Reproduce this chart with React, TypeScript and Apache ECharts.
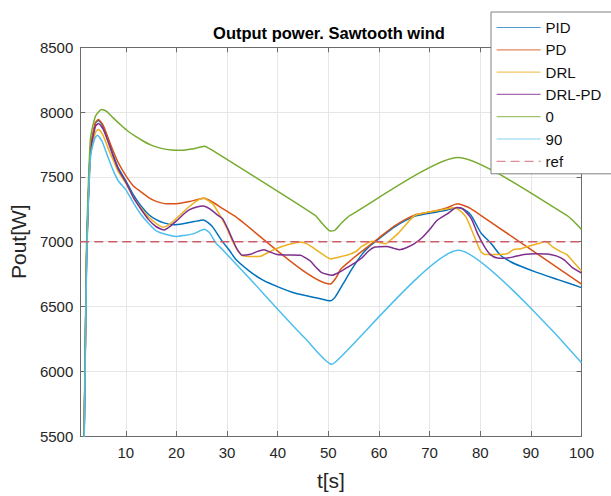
import React, { useEffect, useRef } from "react";
import * as echarts from "echarts";

const FONT = "'Liberation Sans', Arial, Helvetica, sans-serif";

const xTicks = [10, 20, 30, 40, 50, 60, 70, 80, 90, 100];
const seriesNames = ["PID", "PD", "DRL", "DRL-PD", "0", "90", "ref"];
const seriesColors = ["#0072BD", "#D95319", "#EDB120", "#7E2F8E", "#77AC30", "#4DBEEE", "#CD5C6A"];

const pidData = [
  [1, 3000], [2.2, 6800], [3, 7710], [4, 7915], [4.6, 7935], [5.5, 7890], [6.5, 7790], [7.5, 7670],
  [8.5, 7570], [10, 7470], [11.5, 7360], [13, 7275], [14.5, 7210], [16, 7170], [17.5, 7145],
  [19.5, 7130], [21.3, 7138], [23.5, 7155], [25.3, 7168], [26.3, 7145], [27.2, 7110], [29.1, 7000],
  [30.5, 6930], [31.8, 6860], [34.4, 6773], [37, 6705], [40.3, 6647], [43, 6608], [45.5, 6584],
  [48, 6563], [50.4, 6543], [51.3, 6570], [53, 6680], [54.6, 6786], [56.6, 6900], [58, 6960],
  [59.9, 7020], [63.1, 7115], [67, 7195], [70, 7220], [73, 7240], [75.5, 7262], [76.7, 7250],
  [78.2, 7203], [80.1, 7070], [82.1, 6988], [84, 6895], [86, 6845], [88, 6810], [91, 6765],
  [95.5, 6705], [100, 6645],
];

const pdData = [
  [1, 3000], [2.2, 6800], [3, 7720], [4, 7920], [4.6, 7942], [5.5, 7900], [6.5, 7800], [7.5, 7700],
  [8.5, 7610], [10, 7510], [11.5, 7430], [12.8, 7390], [14.5, 7340], [16, 7311], [18, 7293],
  [20, 7293], [22.6, 7310], [25.5, 7335], [27.2, 7304], [29.2, 7253], [31.4, 7200], [50.4, 6673],
  [51.5, 6720], [52.5, 6790], [54.6, 6862], [56.6, 6925], [59.9, 7026], [63, 7120], [67, 7205],
  [71, 7236], [73.5, 7262], [75.5, 7292], [77, 7275], [78.2, 7253], [80.1, 7203], [100, 6673],
];

const drlData = [
  [1, 3000], [2.2, 6750], [3, 7660], [4, 7845], [4.6, 7866], [5.5, 7820], [6.5, 7720], [7.5, 7630],
  [8.5, 7540], [10, 7450], [11.5, 7340], [13, 7260], [14.5, 7190], [16, 7140], [17.3, 7112],
  [18.5, 7130], [20, 7180], [21.5, 7235], [22.6, 7273], [24, 7315], [25.3, 7337], [26.5, 7310],
  [27.2, 7291], [28.8, 7190], [30, 7100], [31.1, 7001], [32.2, 6925], [33.1, 6890], [35, 6885],
  [36.6, 6887], [38.5, 6925], [40.3, 6955], [42.3, 6980], [44.2, 6996], [45.7, 6985], [47.1, 6950],
  [48.8, 6905], [50.5, 6867], [52, 6880], [54, 6900], [55.5, 6925], [56.6, 6963], [58.7, 7004],
  [60, 6995], [61.3, 6983], [62.5, 7020], [63.8, 7064], [65.5, 7140], [67, 7200], [69, 7222],
  [71, 7236], [73, 7250], [74.9, 7261], [76, 7240], [77.2, 7190], [78.2, 7100], [79.1, 7014],
  [80.1, 6925], [81, 6900], [83.4, 6900], [85.4, 6908], [86.6, 6940], [88, 6945], [89.9, 6968],
  [91.5, 6985], [92.9, 7001], [94.3, 6960], [95.8, 6925], [97.1, 6900], [98.5, 6840], [100, 6773],
];

const drlPdData = [
  [1, 3000], [2.2, 6780], [3, 7690], [4, 7890], [4.6, 7912], [5.5, 7870], [6.5, 7770], [7.5, 7660],
  [8.5, 7560], [10, 7460], [11.5, 7340], [13, 7250], [14.5, 7170], [16, 7115], [17.6, 7090],
  [18.8, 7120], [20, 7160], [21.5, 7215], [22.6, 7247], [24, 7268], [25.3, 7276], [26.5, 7255],
  [28.2, 7203], [29.1, 7178], [30, 7110], [31.1, 7014], [32, 6940], [33, 6895], [34.6, 6902],
  [36, 6925], [37.3, 6938], [38.5, 6920], [39.9, 6900], [42, 6897], [44.5, 6895], [45.5, 6875],
  [46.5, 6849], [47.6, 6800], [48.7, 6761], [50.7, 6741], [52, 6760], [53.3, 6790], [55, 6830],
  [56.6, 6874], [58, 6930], [59.2, 6958], [61.5, 6963], [63, 6948], [64.1, 6938], [65.5, 6955],
  [67, 6985], [68.5, 7030], [70, 7094], [71.5, 7165], [73.5, 7215], [75.4, 7263], [76.5, 7255],
  [78.2, 7180], [79.5, 7060], [80.8, 6963], [82, 6900], [83.4, 6874], [85, 6872], [86.5, 6882],
  [88.6, 6900], [91, 6907], [93.2, 6905], [95, 6890], [96.5, 6862], [98.2, 6800], [100, 6758],
];

const zeroData = [
  [1, 3000], [2.2, 6900], [3, 7790], [4, 7967], [5.2, 8020], [6.2, 8005], [7.5, 7955], [9, 7900],
  [10.5, 7850], [12, 7810], [13.5, 7775], [15, 7745], [17, 7720], [19, 7707], [21, 7705],
  [23, 7715], [24.5, 7728], [25.5, 7737], [26.8, 7712], [47.4, 7203], [48.8, 7140], [50.4, 7082],
  [51.3, 7088], [52.5, 7140], [54.3, 7203], [75.6, 7650], [97.1, 7203], [100, 7094],
];

const ninetyData = [
  [1, 3000], [2.2, 6700], [3, 7640], [3.8, 7790], [4.4, 7821], [5.3, 7775], [6.3, 7670],
  [7.5, 7550], [8.5, 7470], [10, 7400], [11.5, 7300], [13, 7210], [14.5, 7140], [16, 7083],
  [18, 7055], [20, 7040], [21.5, 7048], [23.3, 7060], [25.5, 7095], [26.5, 7070], [27.8, 6990],
  [29.1, 6938], [34.4, 6718], [40.9, 6440], [45.5, 6250], [50.7, 6053], [51.5, 6075],
  [75.7, 6933], [100, 6066],
];

const refData = [[1, 7000], [100, 7000]];

const allData = [pidData, pdData, drlData, drlPdData, zeroData, ninetyData, refData];

const AXIS = "#6b6b6b";
const GRID = "#e6e6e6";
const TXT = "#262626";

export default function App() {
  const ref = useRef<HTMLDivElement>(null);
  useEffect(() => {
    const chart = echarts.init(ref.current!, null, { renderer: "svg" });
    const series = seriesNames.map((name, i) => ({
      name,
      type: "line",
      data: allData[i],
      symbol: "none",
      smooth: name === "ref" ? false : 0.2,
      clip: true,
      xAxisIndex: 0,
      yAxisIndex: 0,
      lineStyle: {
        color: seriesColors[i],
        width: 1.5,
        type: name === "ref" ? [9, 5] : "solid",
      },
      itemStyle: { color: seriesColors[i] },
      z: 3,
    }));
    const mirrorX = {
      type: "value",
      min: 1,
      max: 100,
      position: "top",
      axisLine: { show: true, onZero: false, lineStyle: { color: AXIS, width: 1 } },
      axisTick: { show: true, inside: true, length: 5, customValues: xTicks, lineStyle: { color: AXIS } },
      axisLabel: { show: false },
      splitLine: { show: false },
    };
    const mirrorY = {
      type: "value",
      min: 5500,
      max: 8500,
      interval: 500,
      position: "right",
      axisLine: { show: true, onZero: false, lineStyle: { color: AXIS, width: 1 } },
      axisTick: { show: true, inside: true, length: 5, lineStyle: { color: AXIS } },
      axisLabel: { show: false },
      splitLine: { show: false },
    };
    chart.setOption({
      animation: false,
      backgroundColor: "#ffffff",
      textStyle: { fontFamily: FONT },
      title: {
        text: "Output power. Sawtooth wind",
        left: 329,
        textAlign: "center",
        top: 24,
        padding: 0,
        textStyle: { fontFamily: FONT, fontSize: 16.5, fontWeight: "bold", color: "#000" },
      },
      grid: { left: 76.5, right: 29.5, top: 47.3, bottom: 53, containLabel: false },
      legend: {
        data: seriesNames,
        orient: "vertical",
        left: 491,
        top: 12,
        padding: [8, 22, 5, 5],
        itemWidth: 44,
        itemHeight: 14,
        itemGap: 7.3,
        borderColor: "#808080",
        borderWidth: 1,
        borderRadius: 0,
        backgroundColor: "#ffffff",
        textStyle: { fontFamily: FONT, fontSize: 15, color: "#111" },
        itemStyle: { opacity: 0, borderWidth: 0 },
        lineStyle: { width: 1.2, opacity: 0.7 },
      },
      xAxis: [
        {
          type: "value",
          min: 1,
          max: 100,
          position: "bottom",
          name: "t[s]",
          nameLocation: "middle",
          nameGap: 34,
          nameTextStyle: { fontFamily: FONT, fontSize: 21, color: TXT },
          axisLine: { show: true, onZero: false, lineStyle: { color: AXIS, width: 1 } },
          axisTick: { show: true, inside: true, length: 5, customValues: xTicks, lineStyle: { color: AXIS } },
          axisLabel: { customValues: xTicks, color: TXT, fontSize: 15, margin: 9, fontFamily: FONT },
          splitLine: { show: true, lineStyle: { color: GRID, width: 1 } },
        },
        mirrorX,
      ],
      yAxis: [
        {
          type: "value",
          min: 5500,
          max: 8500,
          interval: 500,
          position: "left",
          name: "Pout[W]",
          nameLocation: "middle",
          nameGap: 46,
          nameTextStyle: { fontFamily: FONT, fontSize: 21, color: TXT },
          axisLine: { show: true, onZero: false, lineStyle: { color: AXIS, width: 1 } },
          axisTick: { show: true, inside: true, length: 5, lineStyle: { color: AXIS } },
          axisLabel: {
            color: TXT,
            fontSize: 15,
            margin: 7,
            fontFamily: FONT,
            formatter: (v: number) => String(v),
          },
          splitLine: { show: true, lineStyle: { color: GRID, width: 1 } },
        },
        mirrorY,
      ],
      series,
    });
    return () => chart.dispose();
  }, []);
  return (
    <div
      ref={ref}
      style={{ position: "absolute", left: 0, top: 0, width: 611, height: 496 }}
    />
  );
}
